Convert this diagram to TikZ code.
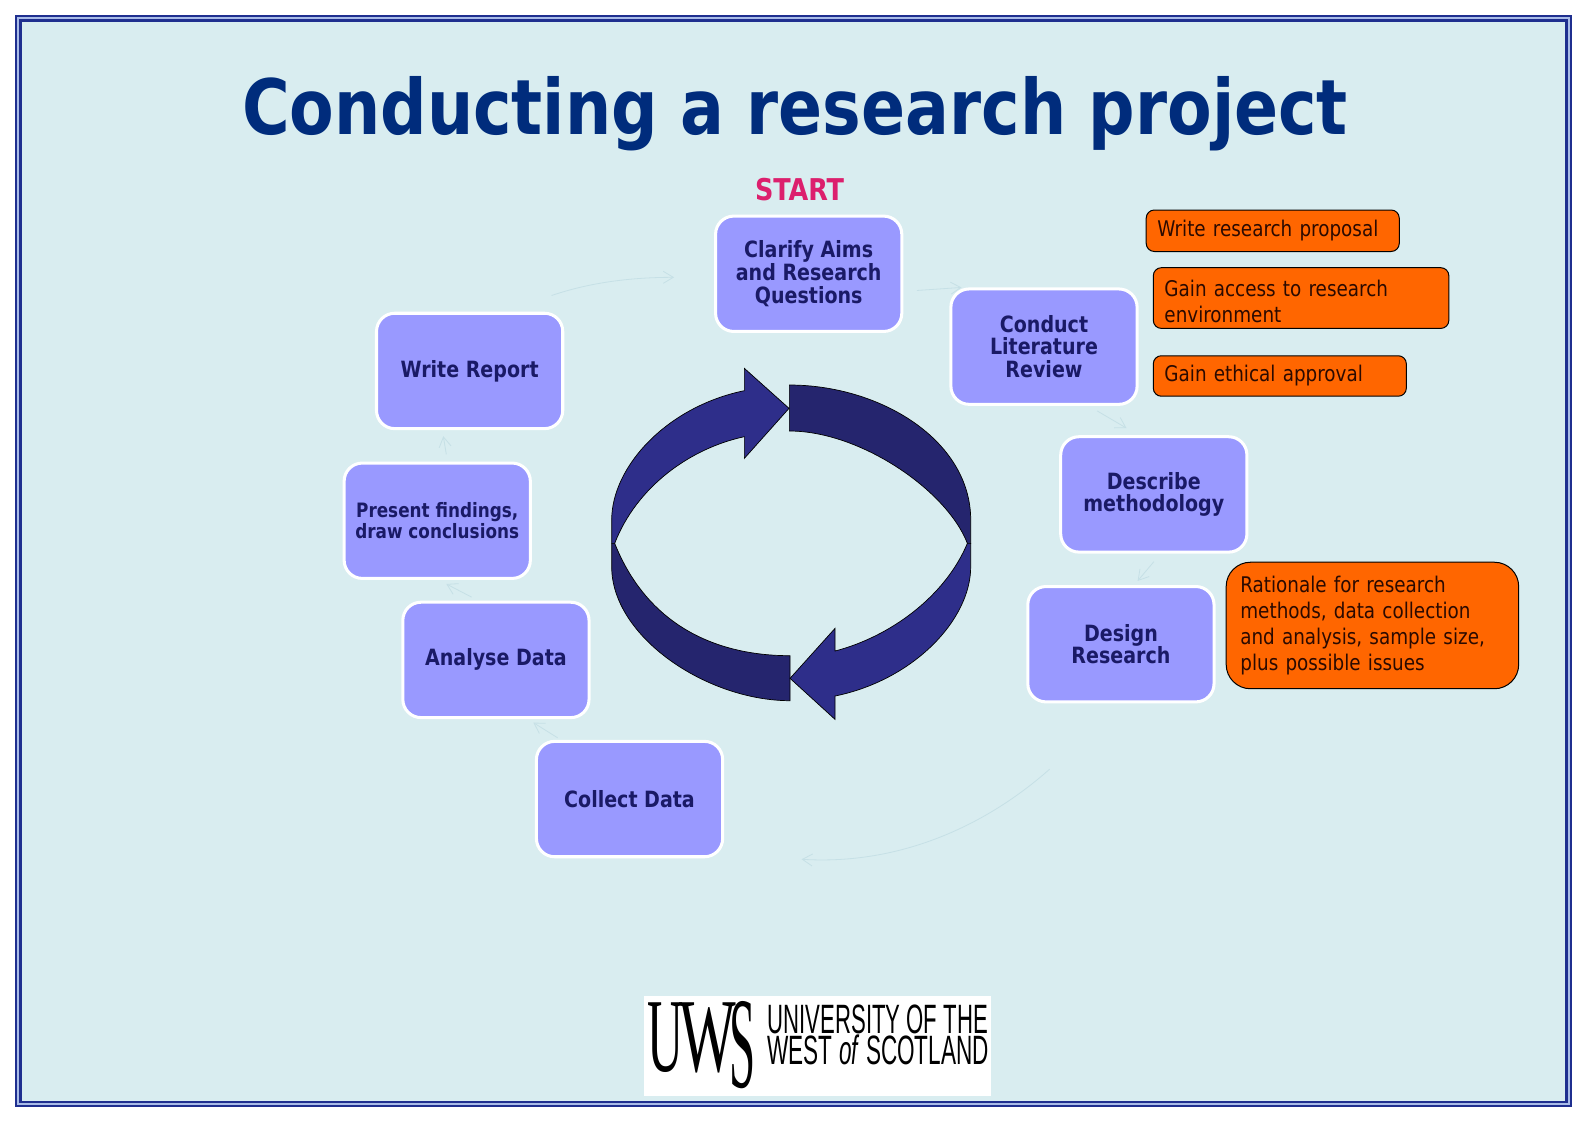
\documentclass[tikz,border=0pt]{standalone}
\usepackage{fontspec}
\setmainfont[FakeStretch=0.945]{DejaVu Sans Condensed}
\newfontfamily\logofont{Liberation Sans}
\newfontfamily\logoserif{Liberation Serif}
\usetikzlibrary{arrows.meta}
\definecolor{bgblue}{HTML}{D9EDF0}
\definecolor{framenavy}{HTML}{1F2F8F}
\definecolor{framelight}{HTML}{A9BCE8}
\definecolor{boxfill}{HTML}{9999FF}
\definecolor{boxtext}{HTML}{1A1A66}
\definecolor{noteorange}{HTML}{FF6600}
\definecolor{notetext}{HTML}{2B0A00}
\definecolor{titleblue}{HTML}{002C7C}
\definecolor{startpink}{HTML}{DC1F6D}
\definecolor{faint}{HTML}{C6E0E6}
\definecolor{arrowlight}{HTML}{2E2E8A}
\definecolor{arrowdark}{HTML}{25256E}
\def\U{0.50605pt}
\tikzset{
  stage/.style={rectangle,rounded corners=18*\U,draw=white,line width=3*\U,fill=boxfill,
    text=boxtext,align=center,minimum width=184*\U,minimum height=114*\U,inner sep=0pt,
    font=\fontsize{11.2}{11.4}\selectfont\bfseries},
  note/.style={rectangle,rounded corners=8*\U,draw=black,line width=0.5pt,fill=noteorange,
    text=notetext,align=left,anchor=north west,inner xsep=11*\U,inner ysep=0pt,
    font=\fontsize{10.8}{12.9}\selectfont},
  link/.style={draw=faint,line width=0.4pt,-{Straight Barb[length=5pt,width=6pt]}},
  wheel/.style={draw=black,line width=0.35pt,line join=miter}
}
\begin{document}
\begin{tikzpicture}[x=\U,y=-\U]
\useasboundingbox (0,0) rectangle (1568,1108.6);
\fill[white] (0,0) rectangle (1568,1108.6);
\fill[framenavy] (14.8,14.8) rectangle (1553,1094);
\fill[framelight] (16.8,16.8) rectangle (1551,1092);
\fill[framenavy] (18.8,18.8) rectangle (1549,1090);
\fill[bgblue] (21.5,21.5) rectangle (1546.5,1087.5);

\node[text=titleblue,font=\fontsize{38.2}{40}\selectfont\bfseries] (title) at (785.5,112) {Conducting a research project};
\node[text=startpink,font=\fontsize{15}{16}\selectfont\bfseries] (start) at (790,187) {START};

\node[stage] (clarify) at (799,270.5) {Clarify Aims\\and Research\\Questions};
\node[stage] (conduct) at (1031.5,342.5) {Conduct\\Literature\\Review};
\node[stage] (describe) at (1140,488.5) {Describe\\methodology};
\node[stage] (design) at (1107.5,636.5) {Design\\Research};
\node[stage] (collect) at (622,789.5) {Collect Data};
\node[stage] (analyse) at (490,652) {Analyse Data};
\node[stage,font=\fontsize{9.9}{10.5}\selectfont\bfseries] (present) at (432,514.5) {Present findings,\\draw conclusions};
\node[stage] (write) at (464,366.5) {Write Report};

\node[note,minimum width=250*\U,minimum height=41*\U,text width=228*\U] (n1) at (1132,207) {Write research proposal};
\node[note,minimum width=292*\U,minimum height=60*\U,text width=270*\U] (n2) at (1139,264) {\rule{0pt}{11.2pt}Gain access to research\\environment};
\node[note,minimum width=250*\U,minimum height=40*\U,text width=228*\U] (n3) at (1139,351) {Gain ethical approval};
\node[note,rounded corners=24*\U,inner xsep=14*\U,minimum width=289*\U,minimum height=125*\U,text width=261*\U] (n4) at (1211,555) {Rationale for research\\methods, data collection\\and analysis, sample size,\\plus possible issues};

\coordinate (l1a) at (545,292); \coordinate (l1b) at (666,274);
\coordinate (l2a) at (906,287); \coordinate (l2b) at (950,284);
\coordinate (l3a) at (1084,406); \coordinate (l3b) at (1113,423);
\coordinate (l4a) at (1140,555); \coordinate (l4b) at (1124,574);
\coordinate (l5a) at (1037,760); \coordinate (l5b) at (792,849);
\coordinate (l6a) at (551,729); \coordinate (l6b) at (527,714);
\coordinate (l7a) at (466,590); \coordinate (l7b) at (441,577);
\coordinate (l8a) at (441,449); \coordinate (l8b) at (438,431);
\draw[link] (l1a) .. controls (580,280) and (620,274) .. (l1b);
\draw[link] (l2a) -- (l2b);
\draw[link] (l3a) -- (l3b);
\draw[link] (l4a) -- (l4b);
\draw[link] (l5a) .. controls (975,815) and (890,855) .. (l5b);
\draw[link] (l6a) -- (l6b);
\draw[link] (l7a) -- (l7b);
\draw[link] (l8a) -- (l8b);

\begin{scope}[shift={(573.07,335.94)},x=0.16667pt,y=-0.16667pt]
% upper right band
\filldraw[wheel,fill=arrowdark] (628,135) .. controls (900,135) and (1172,300) .. (1172,540)
  -- (1172,610) -- (1162,610) .. controls (1100,450) and (840,273) .. (628,273) -- cycle;
% lower left band
\filldraw[wheel,fill=arrowdark] (630,1082) .. controls (380,1082) and (95,890) .. (95,680)
  -- (95,610) -- (104,610) .. controls (200,850) and (400,947) .. (630,947) -- cycle;
% lower right arrow
\filldraw[wheel,fill=arrowlight] (1172,610) -- (1172,680) .. controls (1172,840) and (1000,1020) .. (765,1068)
  -- (765,1138) -- (630,1015) -- (765,865) -- (765,933)
  .. controls (930,890) and (1095,770) .. (1162,610) -- cycle;
% upper left arrow
\filldraw[wheel,fill=arrowlight] (95,610) -- (95,540) .. controls (95,380) and (260,200) .. (493,152)
  -- (493,85) -- (627,205) -- (493,355) -- (493,290)
  .. controls (330,325) and (170,440) .. (104,610) -- cycle;
\end{scope}

\node[fill=white,minimum width=343*\U,minimum height=99*\U,inner sep=0pt] (logo) at (807.5,1033.5) {};
\node[font=\logoserif\fontsize{50}{50}\selectfont,text=black,inner sep=0pt,anchor=base west] (uws) at (639,1059) {\scalebox{.5}[1.05]{U}\kern-2pt\scalebox{.6}[1.05]{W}\kern-3pt\raisebox{-8pt}{\scalebox{.47}[1.3]{S}}};
\node[font=\logofont\fontsize{20.5}{20.5}\selectfont,text=black,anchor=base west,inner sep=0pt] (uni) at (758,1021) {\scalebox{0.54}[1]{UNIVERSITY OF THE}};
\node[font=\logofont\fontsize{20.5}{20.5}\selectfont,text=black,anchor=base west,inner sep=0pt] (west) at (758,1052) {\scalebox{0.55}[1]{WEST \textit{of} SCOTLAND}};
\end{tikzpicture}
\end{document}
